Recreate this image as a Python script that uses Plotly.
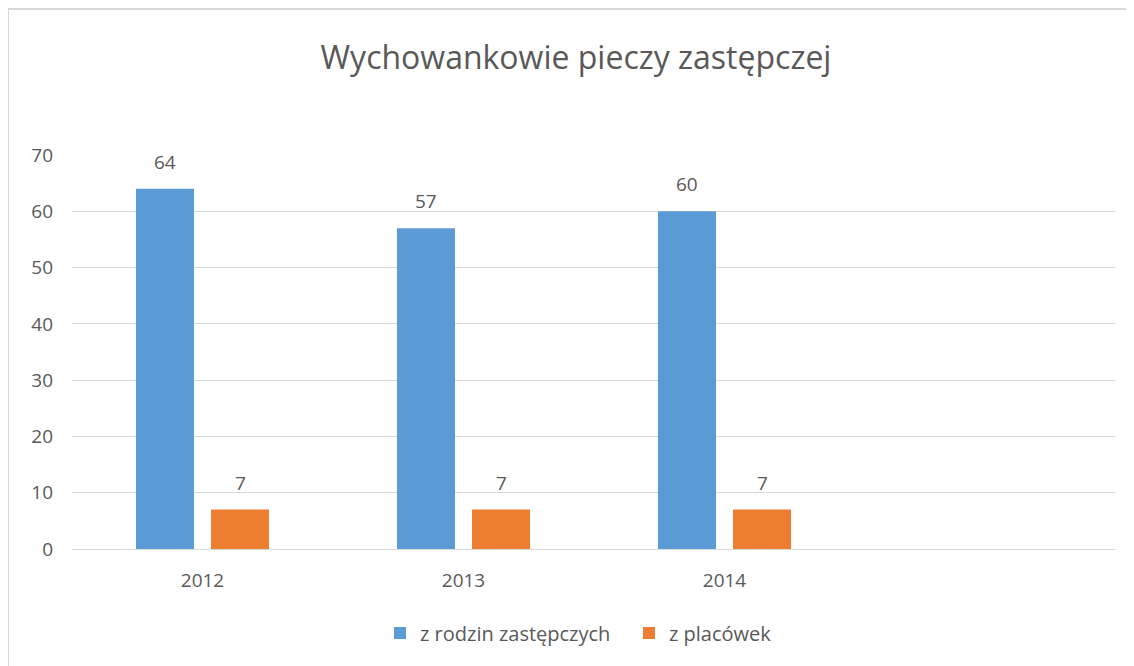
import plotly.graph_objects as go

years = ["2012", "2013", "2014"]
rodziny = [64, 57, 60]
placowki = [7, 7, 7]
series_names = ["z rodzin zastępczych", "z placówek"]
title_text = "Wychowankowie pieczy zastępczej"
y_ticks = [0, 10, 20, 30, 40, 50, 60, 70]

FONT = "Open Sans"
TXT = "#595959"
COLORS = ["#5b9bd5", "#ed7d31"]

# page body has an 8px margin; figure is placed at (8, 8)
W, H = 1126, 658

fig = go.Figure()
annotations = []
for vals, name, col, shift in [(rodziny, series_names[0], COLORS[0], -37.5),
                               (placowki, series_names[1], COLORS[1], 37.5)]:
    fig.add_trace(go.Bar(x=years, y=vals, name=name, marker_color=col,
                         marker_line_width=0))
    for i, yv in enumerate(vals):
        annotations.append(dict(x=i, y=yv, xref="x", yref="y", text=str(yv),
                                showarrow=False, xshift=shift, yshift=27,
                                yanchor="middle",
                                font=dict(family=FONT, size=19, color=TXT)))

fig.update_layout(
    width=W, height=H,
    paper_bgcolor="white", plot_bgcolor="white",
    margin=dict(l=64, r=18, t=147, b=117),
    barmode="group", bargap=0.425, bargroupgap=0.227,
    font=dict(family=FONT, color=TXT, size=19),
    title=dict(text=title_text, x=568/W, xref="container", xanchor="center",
               y=1-50/H, yref="container", yanchor="middle",
               font=dict(family=FONT, size=32, color=TXT)),
    showlegend=True,
    legend=dict(orientation="h", x=372/W, xref="container", xanchor="left",
                y=1-625/H, yref="container", yanchor="middle",
                font=dict(family=FONT, size=20, color=TXT), itemwidth=30,
                entrywidth=204, traceorder="normal"),
    xaxis=dict(type="category", categoryorder="array", categoryarray=years,
               range=[-0.5, 3.5], showgrid=False, showline=False, ticks="",
               ticklabelstandoff=18,
               tickfont=dict(family=FONT, size=19, color=TXT)),
    yaxis=dict(range=[0, 70], tickvals=y_ticks, showgrid=True, gridcolor="#d9d9d9",
               gridwidth=1, zeroline=True, zerolinecolor="#d9d9d9", zerolinewidth=1,
               showline=False, ticks="", ticklabelstandoff=18,
               tickfont=dict(family=FONT, size=19, color=TXT)),
    annotations=annotations,
    shapes=[dict(type="rect", xref="paper", yref="paper",
                 x0=(8-72)/1044, x1=1.2, y0=-0.5, y1=(549-9)/394,
                 line=dict(color="#d9d9d9", width=2), fillcolor="rgba(0,0,0,0)", layer="below")],
)

fig.write_html("out.html")
